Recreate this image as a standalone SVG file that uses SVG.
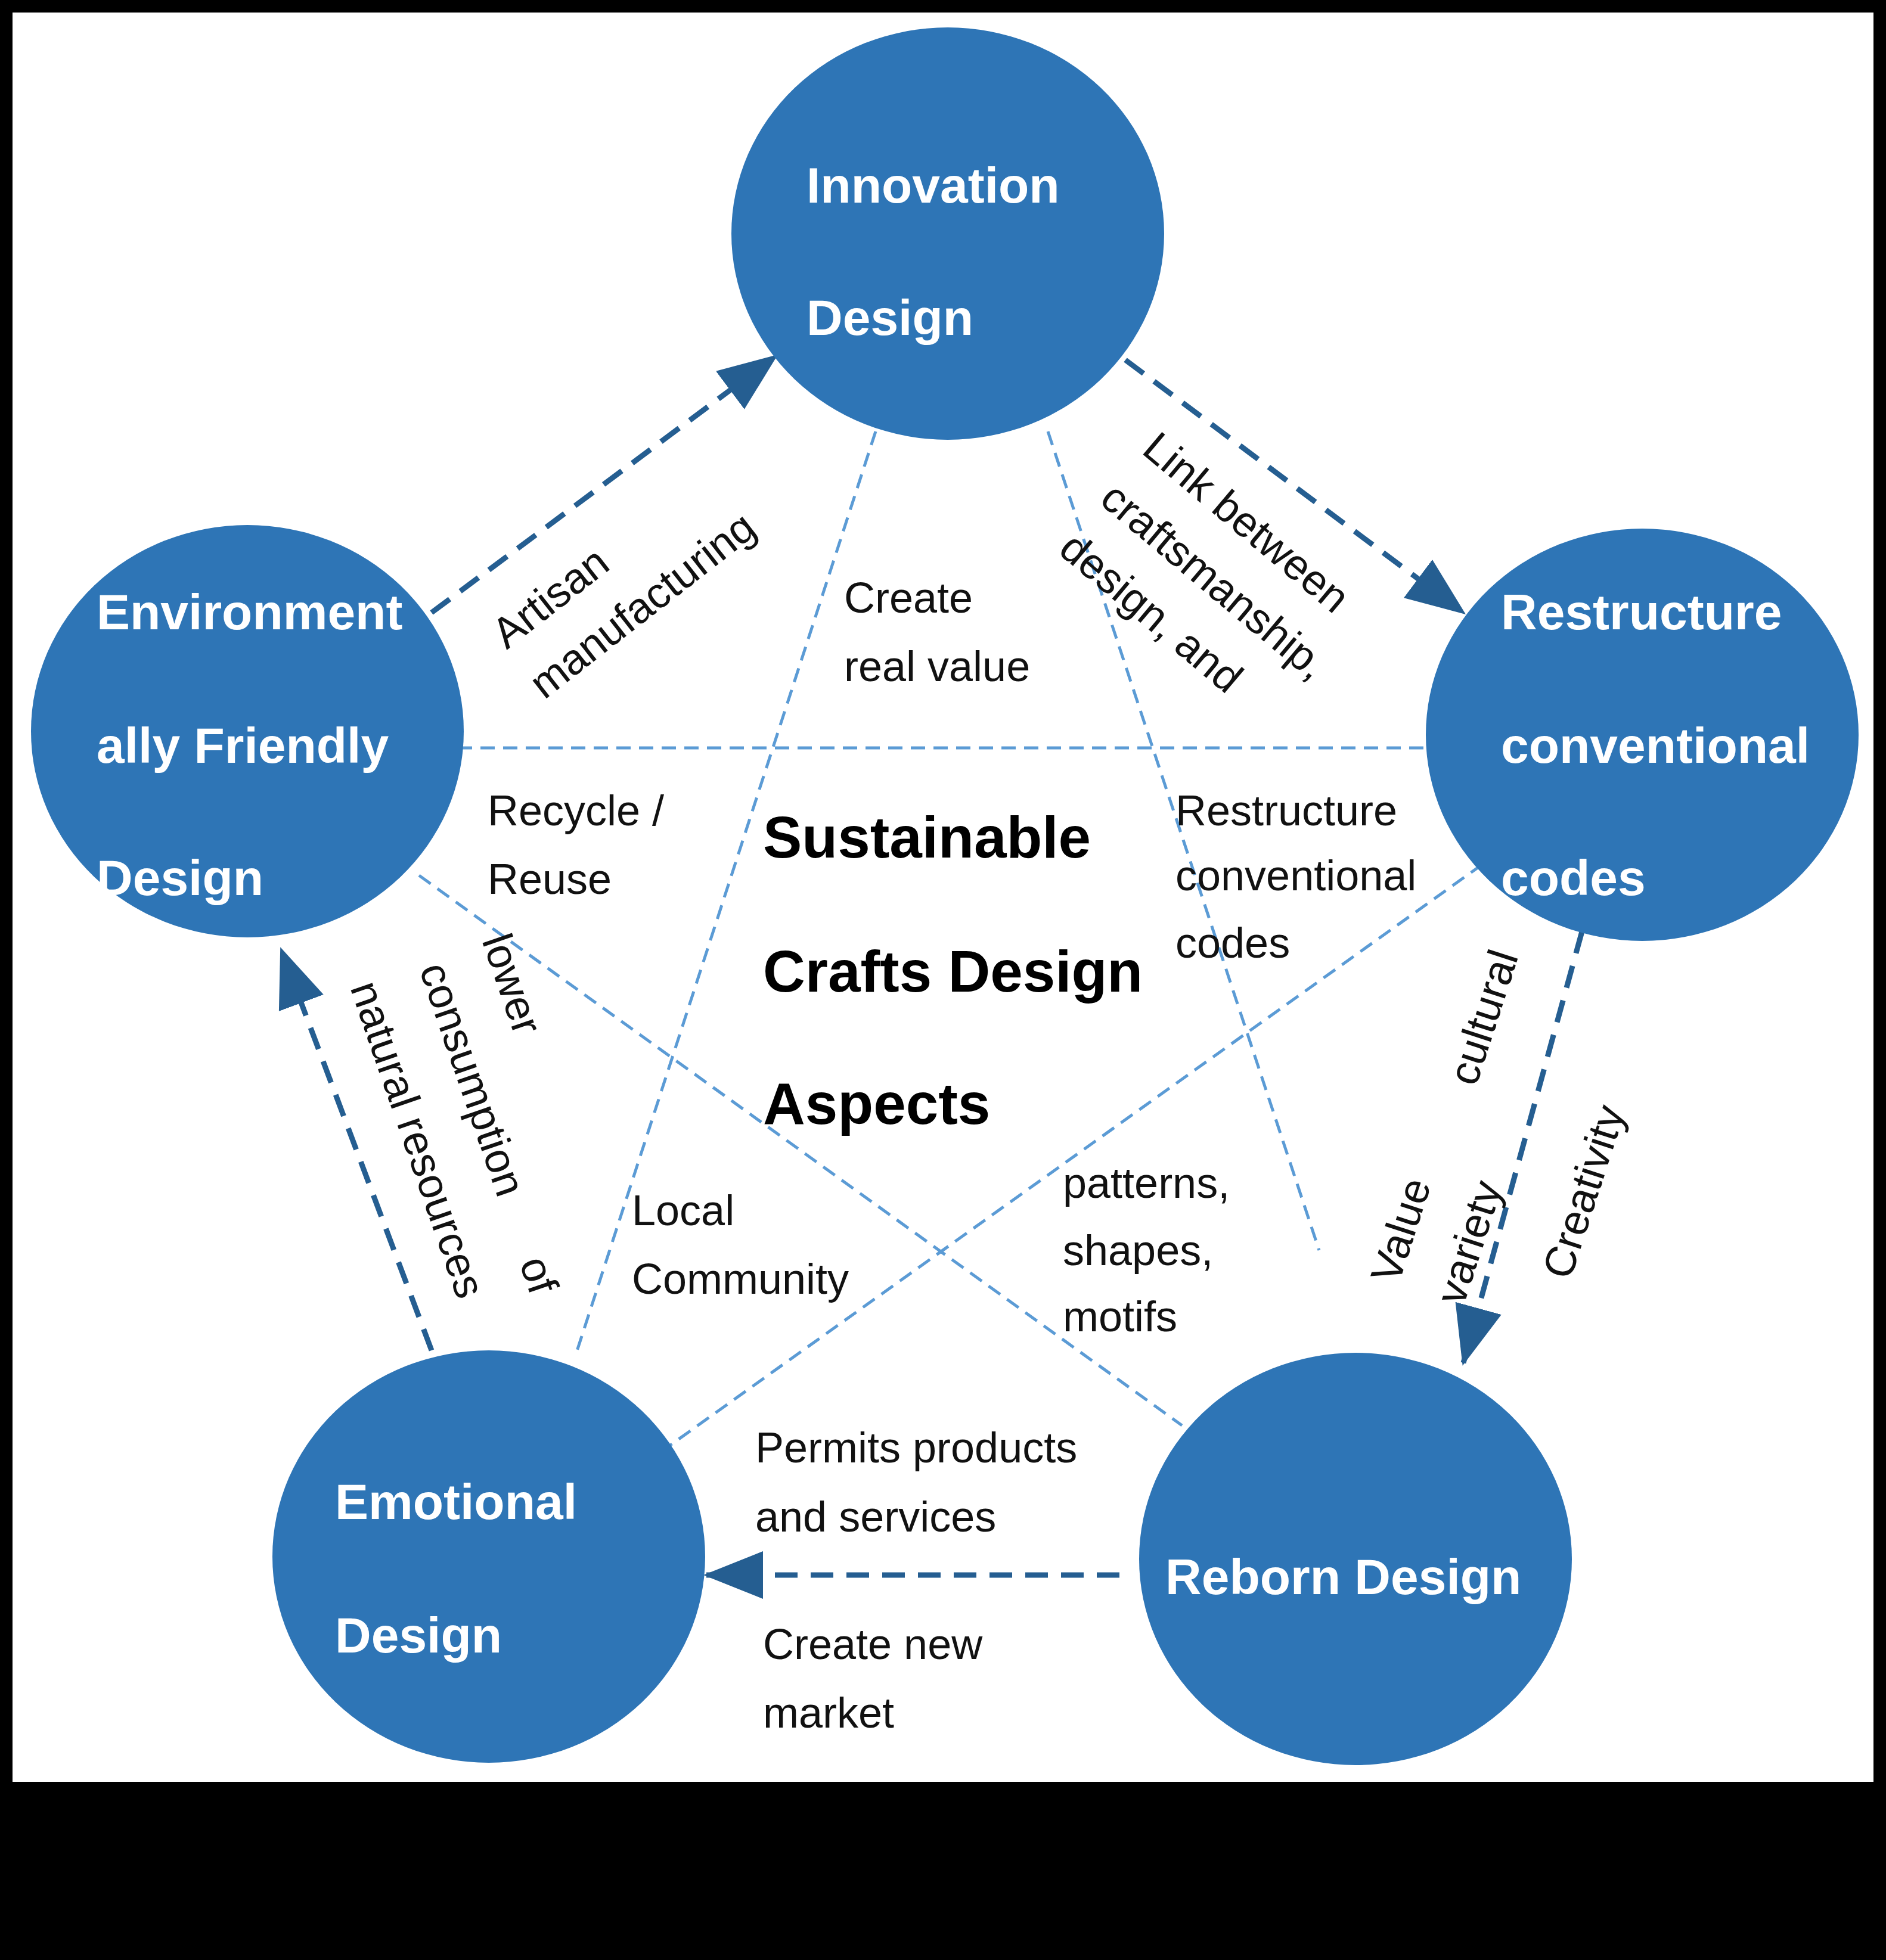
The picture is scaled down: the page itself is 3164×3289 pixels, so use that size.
<svg xmlns="http://www.w3.org/2000/svg" width="3164" height="3289" viewBox="0 0 3164 3289">
<style>
.n{fill:#2e75b6}
.nt{font-family:"Liberation Sans",Arial,sans-serif;font-weight:bold;font-size:84px;fill:#fff}
.c{font-family:"Liberation Sans",Arial,sans-serif;font-weight:bold;font-size:98px;fill:#000}
.l{font-family:"Liberation Sans",Arial,sans-serif;font-size:72px;fill:#111}
.d{stroke:#255e91;stroke-width:9;stroke-dasharray:38 22;fill:none}
.lt{stroke:#5b9bd5;stroke-width:5;stroke-dasharray:24 14;fill:none}
</style>
<defs>
<marker id="ah" markerUnits="userSpaceOnUse" markerWidth="100" markerHeight="100" viewBox="0 0 100 80" refX="95" refY="40" orient="auto">
<path d="M0,0 L100,40 L0,80 Z" fill="#255e91"/>
</marker>
</defs>
<rect width="3164" height="3289" fill="#000"/>
<rect x="21" y="21" width="3122" height="2969" fill="#fff"/>
<g id="connectors">
<line class="lt" x1="1469" y1="724" x2="965" y2="2276"/>
<line class="lt" x1="1758" y1="724" x2="2213" y2="2098"/>
<line class="lt" x1="692" y1="1255" x2="2472" y2="1255"/>
<line class="lt" x1="703" y1="1469" x2="1983" y2="2392"/>
<line class="lt" x1="2549" y1="1406" x2="1112" y2="2434"/>
<line class="d" x1="724" y1="1028" x2="1301" y2="598" marker-end="url(#ah)"/>
<line class="d" x1="1888" y1="604" x2="2455" y2="1028" marker-end="url(#ah)"/>
<line class="d" x1="2654" y1="1563" x2="2455" y2="2287" marker-end="url(#ah)"/>
<line class="d" x1="1878" y1="2643" x2="1185" y2="2643" marker-end="url(#ah)"/>
<line class="d" x1="724" y1="2266" x2="472" y2="1594" marker-end="url(#ah)"/>
</g>
<g id="innovation"><ellipse class="n" cx="1590" cy="392" rx="363" ry="346"/><text class="nt" x="1353" y="340">Innovation</text><text class="nt" x="1353" y="562">Design</text></g>
<g id="environment"><ellipse class="n" cx="415" cy="1227" rx="363" ry="346"/><text class="nt" x="162" y="1056">Environment</text><text class="nt" x="162" y="1280">ally Friendly</text><text class="nt" x="162" y="1502">Design</text></g>
<g id="restructure"><ellipse class="n" cx="2755" cy="1233" rx="363" ry="346"/><text class="nt" x="2518" y="1056">Restructure</text><text class="nt" x="2518" y="1280">conventional</text><text class="nt" x="2518" y="1502">codes</text></g>
<g id="emotional"><ellipse class="n" cx="820" cy="2612" rx="363" ry="346"/><text class="nt" x="562" y="2549">Emotional</text><text class="nt" x="562" y="2773">Design</text></g>
<g id="reborn"><ellipse class="n" cx="2274" cy="2616" rx="363" ry="346"/><text class="nt" x="1955" y="2675">Reborn Design</text></g>
<g id="center"><text class="c" x="1280" y="1439">Sustainable</text><text class="c" x="1280" y="1664">Crafts Design</text><text class="c" x="1280" y="1886">Aspects</text></g>
<g id="labels">
<text class="l" x="1416" y="1028">Create</text><text class="l" x="1416" y="1143">real value</text>
<text class="l" x="818" y="1385">Recycle /</text><text class="l" x="818" y="1500">Reuse</text>
<text class="l" x="1972" y="1385">Restructure</text><text class="l" x="1972" y="1494">conventional</text><text class="l" x="1972" y="1607">codes</text>
<text class="l" x="1060" y="2056">Local</text><text class="l" x="1060" y="2171">Community</text>
<text class="l" x="1783" y="2010">patterns,</text><text class="l" x="1783" y="2123">shapes,</text><text class="l" x="1783" y="2234">motifs</text>
<text class="l" x="1267" y="2454">Permits products</text><text class="l" x="1267" y="2570">and services</text>
<text class="l" x="1280" y="2784">Create new</text><text class="l" x="1280" y="2899">market</text>
<text class="l" transform="translate(850,1091) rotate(-38)">Artisan</text>
<text class="l" transform="translate(913,1175) rotate(-38)">manufacturing</text>
<text class="l" transform="translate(1913,759) rotate(40)">Link between</text>
<text class="l" transform="translate(1842,843) rotate(40)">craftsmanship,</text>
<text class="l" transform="translate(1773,927) rotate(40)">design, and</text>
<text class="l" transform="translate(2476,1825) rotate(-72)">cultural</text>
<text class="l" transform="translate(2346,2157) rotate(-72)">Value</text>
<text class="l" transform="translate(2455,2193) rotate(-72)">variety</text>
<text class="l" transform="translate(2634,2150) rotate(-72)">Creativity</text>
<text class="l" transform="translate(808,1578) rotate(71)">lower</text>
<text class="l" transform="translate(703,1626) rotate(71)">consumption</text>
<text class="l" transform="translate(587,1657) rotate(71)">natural resources</text>
<text class="l" transform="translate(871,2119) rotate(71)">of</text>
</g>
</svg>
